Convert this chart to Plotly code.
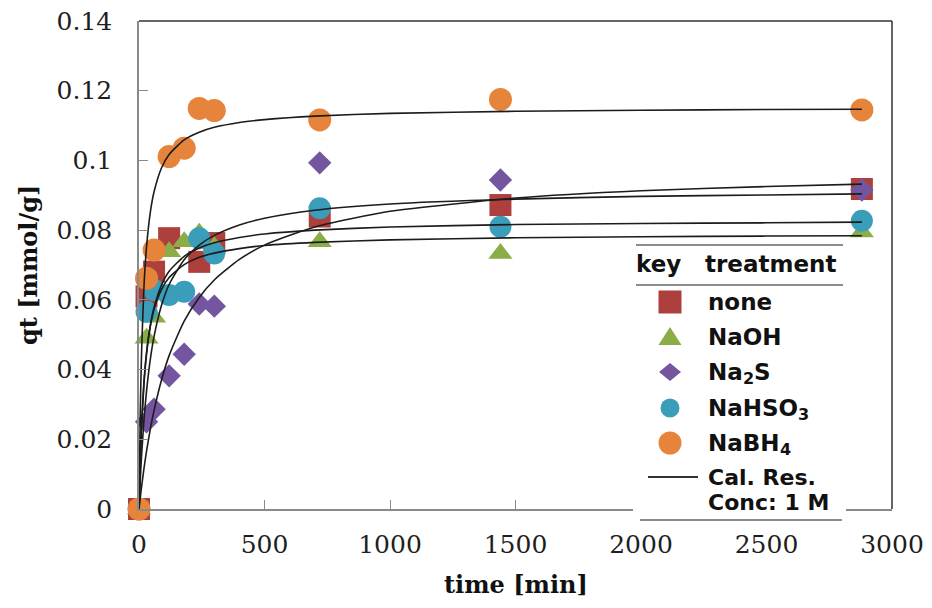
import plotly.graph_objects as go

# ---- measured adsorption data (time in min, qt in mmol/g) ----
time_min = [0, 30, 60, 120, 180, 240, 300, 720, 1440, 2880]

q_none   = [0, 0.0610, 0.0681, 0.0777, None,   0.0709, 0.0763, 0.0839, 0.0872, 0.0918]
q_naoh   = [0, 0.0490, 0.0550, 0.0738, 0.0767, 0.0791, 0.0752, 0.0767, 0.0733, 0.0795]
q_na2s   = [0, 0.0250, 0.0286, 0.0382, 0.0444, 0.0588, 0.0582, 0.0993, 0.0944, 0.0915]
q_nahso3 = [0, 0.0566, 0.0628, 0.0614, 0.0623, 0.0777, 0.0733, 0.0863, 0.0810, 0.0827]
q_nabh4  = [0, 0.0662, 0.0743, 0.1011, 0.1035, 0.1149, 0.1143, 0.1116, 0.1175, 0.1145]

# ---- calculated curves (Cal. Res., 1 M) ----
fit_time = [0, 5, 10, 20, 30, 45, 60, 90, 120, 180, 240, 300, 400, 500, 700,
            1000, 1500, 2000, 2500, 2880]
fit_none   = [0, 0.0081, 0.0150, 0.0257, 0.0338, 0.0429, 0.0495, 0.0585, 0.0644, 0.0715,
              0.0757, 0.0785, 0.0815, 0.0834, 0.0857, 0.0875, 0.0889, 0.0897, 0.0901, 0.0904]
fit_naoh   = [0, 0.0142, 0.0241, 0.0369, 0.0449, 0.0525, 0.0573, 0.0630, 0.0664, 0.0701,
              0.0722, 0.0734, 0.0747, 0.0756, 0.0765, 0.0772, 0.0778, 0.0781, 0.0783, 0.0784]
fit_na2s   = [0, 0.0032, 0.0062, 0.0117, 0.0166, 0.0229, 0.0283, 0.0371, 0.0440, 0.0539,
              0.0607, 0.0657, 0.0716, 0.0757, 0.0809, 0.0854, 0.0892, 0.0913, 0.0925, 0.0932]
fit_nahso3 = [0, 0.0133, 0.0230, 0.0360, 0.0444, 0.0525, 0.0578, 0.0643, 0.0682, 0.0725,
              0.0749, 0.0764, 0.0779, 0.0789, 0.0800, 0.0809, 0.0816, 0.0819, 0.0821, 0.0823]
fit_nabh4  = [0, 0.0275, 0.0443, 0.0641, 0.0752, 0.0851, 0.0910, 0.0979, 0.1017, 0.1059,
              0.1081, 0.1095, 0.1109, 0.1117, 0.1127, 0.1135, 0.1141, 0.1144, 0.1146, 0.1147]

# treatment labels as (text, subscript) pieces
series_labels = [
    [("none", False)],
    [("NaOH", False)],
    [("Na", False), ("2", True), ("S", False)],
    [("NaHSO", False), ("3", True)],
    [("NaBH", False), ("4", True)],
]
series_names = ["none", "NaOH", "Na2S", "NaHSO3", "NaBH4"]
series_q = [q_none, q_naoh, q_na2s, q_nahso3, q_nabh4]
series_fit = [fit_none, fit_naoh, fit_na2s, fit_nahso3, fit_nabh4]
series_color = ["#AD3F3C", "#8BAD48", "#7456A0", "#3A9DBA", "#E5843A"]
series_symbol = ["square", "triangle-up", "diamond", "circle", "circle"]
series_size = [22, 21, 18, 22, 23]

x_ticks = [0, 500, 1000, 1500, 2000, 2500, 3000]
y_ticks = [0, 0.02, 0.04, 0.06, 0.08, 0.10, 0.12, 0.14]
y_tick_text = ["0", "0.02", "0.04", "0.06", "0.08", "0.1", "0.12", "0.14"]

# ---- page geometry (px) ----
FIG_W, FIG_H = 932, 608
L, R, T, B = 139, 892, 21, 509
PW, PH = R - L, B - T


def xp(px):
    return (px - L) / PW


def yp(py):
    return (B - py) / PH


fig = go.Figure()

for name, q, col, sym, sz in zip(series_names, series_q, series_color, series_symbol, series_size):
    fig.add_trace(go.Scatter(
        x=time_min, y=q, mode="markers", name=name, showlegend=False,
        marker=dict(symbol=sym, size=sz, color=col, line=dict(width=0)),
        cliponaxis=False,
    ))

for q in series_fit:
    fig.add_trace(go.Scatter(
        x=fit_time, y=q, mode="lines", showlegend=False, hoverinfo="skip",
        line=dict(color="#1c1c1c", width=1.6, shape="spline", smoothing=0.6),
        cliponaxis=False,
    ))

axis_common = dict(
    showgrid=False, zeroline=False, showline=True, linecolor="#8a8a8a", linewidth=1.5,
    ticks="inside", ticklen=9, tickcolor="#8a8a8a", tickwidth=1.2,
    tickfont=dict(family="DejaVu Serif", size=25, color="#1e1e1e"),
)

fig.update_xaxes(range=[0, 3000], tickvals=x_ticks, ticklabelstandoff=12, **axis_common)
fig.update_yaxes(range=[0, 0.14], tickvals=y_ticks, ticktext=y_tick_text,
                 ticklabelstandoff=20, **axis_common)

shapes = []
# frame: top and right border
shapes.append(dict(type="line", xref="paper", yref="paper", x0=0, x1=1, y0=1, y1=1,
                   line=dict(color="#333333", width=1.5), layer="above"))
shapes.append(dict(type="line", xref="paper", yref="paper", x0=1, x1=1, y0=0, y1=1,
                   line=dict(color="#333333", width=1.5), layer="above"))

# legend table
shapes.append(dict(type="rect", xref="paper", yref="paper",
                   x0=xp(633), x1=xp(846), y0=yp(527), y1=yp(239),
                   fillcolor="white", line=dict(width=0), layer="above"))
for y_rule, xa, xb in [(245, 636, 843), (285, 636, 843), (520, 640, 842)]:
    shapes.append(dict(type="line", xref="paper", yref="paper",
                       x0=xp(xa), x1=xp(xb), y0=yp(y_rule), y1=yp(y_rule),
                       line=dict(color="#8c8c8c", width=2), layer="above"))

key_x = xp(670)
row_y = [302, 337, 372, 408, 443]
key_paths = {
    "square": "M-11.5,-11.5 L11.5,-11.5 L11.5,11.5 L-11.5,11.5 Z",
    "triangle-up": "M-11.5,-8 L11.5,-8 L0,10 Z",
    "diamond": "M-11,0 L0,9 L11,0 L0,-9 Z",
}
key_radius = [None, None, None, 9.5, 11.5]
for i, (sym, col) in enumerate(zip(series_symbol, series_color)):
    base = dict(xref="paper", yref="paper", xsizemode="pixel", ysizemode="pixel",
                xanchor=key_x, yanchor=yp(row_y[i]), fillcolor=col,
                line=dict(width=0), layer="above")
    if sym == "circle":
        r = key_radius[i]
        shapes.append(dict(type="circle", x0=-r, x1=r, y0=-r, y1=r, **base))
    else:
        shapes.append(dict(type="path", path=key_paths[sym], **base))

shapes.append(dict(type="line", xref="paper", yref="paper",
                   x0=xp(648), x1=xp(698), y0=yp(477), y1=yp(477),
                   line=dict(color="#333333", width=2), layer="above"))

# DejaVu Sans Bold advance widths (em) for the glyphs used in the labels
ADV = {"N": 0.837, "a": 0.675, "H": 0.837, "S": 0.720, "O": 0.850, "B": 0.762,
       "2": 0.696, "3": 0.696, "4": 0.696, "n": 0.712, "o": 0.687, "e": 0.678}

LEG_SIZE, SUB_SIZE, SUB_DROP = 23, 16, 6
leg_font = dict(family="DejaVu Sans", size=LEG_SIZE, color="#111111", weight="bold")
annotations = [
    dict(text="key", x=xp(636), y=yp(264), xanchor="left", yanchor="middle", font=leg_font),
    dict(text="treatment", x=xp(705), y=yp(264), xanchor="left", yanchor="middle", font=leg_font),
]
TEXT_X = 708
for pieces, ry in zip(series_labels, row_y):
    cx = TEXT_X
    for txt, sub in pieces:
        size = SUB_SIZE if sub else LEG_SIZE
        f = dict(leg_font, size=size)
        annotations.append(dict(text=txt, x=xp(cx), y=yp(ry + (SUB_DROP if sub else 0)),
                                xanchor="left", yanchor="middle", font=f))
        cx += sum(ADV.get(ch, 0.7) for ch in txt) * size
annotations.append(dict(text="Cal. Res.", x=xp(TEXT_X), y=yp(477),
                        xanchor="left", yanchor="middle", font=dict(leg_font, size=22)))
annotations.append(dict(text="Conc: 1 M", x=xp(TEXT_X), y=yp(502),
                        xanchor="left", yanchor="middle", font=dict(leg_font, size=22)))
for a in annotations:
    a.update(xref="paper", yref="paper", showarrow=False, borderpad=0, borderwidth=0)

# axis titles
title_font = dict(family="DejaVu Serif", size=24, color="#111111", weight="bold")
annotations.append(dict(text="time [min]", xref="paper", yref="paper",
                        x=0.5, y=yp(584), xanchor="center", yanchor="middle",
                        showarrow=False, font=title_font))
annotations.append(dict(text="qt [mmol/g]", xref="paper", yref="paper",
                        x=xp(28), y=0.5, xanchor="center", yanchor="middle",
                        textangle=-90, showarrow=False, font=title_font))

fig.update_layout(
    width=FIG_W, height=FIG_H,
    margin=dict(l=L, r=FIG_W - R, t=T, b=FIG_H - B, autoexpand=False),
    paper_bgcolor="white", plot_bgcolor="white",
    showlegend=False,
    shapes=shapes, annotations=annotations,
)

fig.write_html("out.html")
